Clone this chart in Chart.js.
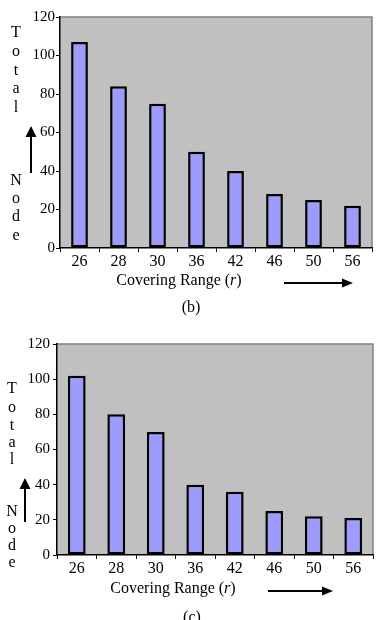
<!DOCTYPE html>
<html>
<head>
<meta charset="utf-8">
<script src="https://cdn.jsdelivr.net/npm/chart.js@4/dist/chart.umd.min.js"></script>
<style>
  html, body { margin: 0; padding: 0; background: #fff; }
  #wrap { position: relative; width: 378px; height: 620px; overflow: hidden; font-family: "Liberation Serif", "DejaVu Serif", serif; color: #000; }
  .box { position: absolute; left: 0; width: 378px; }
  .txt { position: absolute; white-space: nowrap; font-size: 16px; line-height: 16px; transform: translate(-50%, -50%); }
  .letter { position: absolute; font-size: 16px; line-height: 16px; transform: translate(-50%, -50%); }
</style>
</head>
<body>
<div id="wrap">
  <div class="box" style="top:0;height:320px;"><canvas id="cb"></canvas></div>
  <div class="box" style="top:320px;height:300px;"><canvas id="cc"></canvas></div>
</div>
<script>
const categories = ["26", "28", "30", "36", "42", "46", "50", "56"];
const valuesB = [107, 84, 75, 50, 40, 28, 25, 22];
const valuesC = [102, 80, 70, 40, 36, 25, 22, 21];
const yTicks = [0, 20, 40, 60, 80, 100, 120];
const xTitle = "Covering Range (<i>r</i>)";
const yTitleTop = ["T", "o", "t", "a", "l"];
const yTitleBottom = ["N", "o", "d", "e"];
const captions = ["(b)", "(c)"];

const FONT = "'Liberation Serif', 'DejaVu Serif', serif";

function bgPlugin(arrowV, arrowH) {
  return {
    id: 'bg',
    beforeDraw(chart) {
      const {ctx, chartArea: a} = chart;
      ctx.save();
      ctx.fillStyle = '#C0C0C0';
      ctx.fillRect(a.left, a.top, a.right - a.left, a.bottom - a.top);
      ctx.strokeStyle = '#808080';
      ctx.lineWidth = 1.5;
      ctx.beginPath();
      ctx.moveTo(a.left, a.top);
      ctx.lineTo(a.right, a.top);
      ctx.lineTo(a.right, a.bottom);
      ctx.stroke();
      ctx.restore();
    },
    afterDraw(chart) {
      const ctx = chart.ctx;
      ctx.save();
      ctx.strokeStyle = '#000';
      ctx.fillStyle = '#000';
      ctx.lineWidth = 2;
      // vertical arrow
      ctx.beginPath();
      ctx.moveTo(arrowV.x, arrowV.y2);
      ctx.lineTo(arrowV.x, arrowV.y1 + 8);
      ctx.stroke();
      ctx.beginPath();
      ctx.moveTo(arrowV.x, arrowV.y1);
      ctx.lineTo(arrowV.x - 5.5, arrowV.y1 + 11);
      ctx.lineTo(arrowV.x + 5.5, arrowV.y1 + 11);
      ctx.closePath();
      ctx.fill();
      // horizontal arrow
      ctx.beginPath();
      ctx.moveTo(arrowH.x1, arrowH.y);
      ctx.lineTo(arrowH.x2 - 8, arrowH.y);
      ctx.stroke();
      ctx.beginPath();
      ctx.moveTo(arrowH.x2, arrowH.y);
      ctx.lineTo(arrowH.x2 - 11, arrowH.y - 4.5);
      ctx.lineTo(arrowH.x2 - 11, arrowH.y + 4.5);
      ctx.closePath();
      ctx.fill();
      ctx.restore();
    }
  };
}

function makeChart(id, values, cfg) {
  return new Chart(document.getElementById(id), {
    type: 'bar',
    data: {
      labels: categories,
      datasets: [{
        data: values,
        backgroundColor: '#9C9CFF',
        borderColor: '#000000',
        borderWidth: 2.5,
        borderSkipped: false,
        barPercentage: cfg.barPct,
        categoryPercentage: 1.0
      }]
    },
    options: {
      responsive: true,
      maintainAspectRatio: false,
      animation: false,
      events: [],
      layout: { padding: { top: cfg.top, right: cfg.right, left: 0, bottom: 0 } },
      plugins: { legend: { display: false }, tooltip: { enabled: false } },
      scales: {
        x: {
          grid: { display: true, drawOnChartArea: false, drawTicks: true, tickLength: 4, color: '#000', offset: true },
          border: { display: true, color: '#000', width: 1.5 },
          ticks: { color: '#000', font: { family: FONT, size: 16 }, padding: 0, maxRotation: 0, autoSkip: false },
          afterFit(scale) { scale.height = cfg.xh; }
        },
        y: {
          min: yTicks[0],
          max: yTicks[yTicks.length - 1],
          afterBuildTicks(scale) { scale.ticks = yTicks.map(v => ({ value: v })); },
          grid: { display: true, drawOnChartArea: false, drawTicks: true, tickLength: 4, color: '#000' },
          border: { display: true, color: '#000', width: 1.5 },
          ticks: { color: '#000', font: { family: FONT, size: 15 }, padding: cfg.ypad },
          afterFit(scale) { scale.width = cfg.yw; }
        }
      }
    },
    plugins: [bgPlugin(cfg.arrowV, cfg.arrowH)]
  });
}

makeChart('cb', valuesB, {
  top: 17, right: 6, xh: 72, yw: 60, ypad: 1, barPct: 0.43,
  arrowV: { x: 31, y1: 126, y2: 173 },
  arrowH: { x1: 284, x2: 353, y: 283 }
});
makeChart('cc', valuesC, {
  top: 24, right: 5, xh: 65, yw: 57, ypad: 3, barPct: 0.45,
  arrowV: { x: 25, y1: 158, y2: 202 },
  arrowH: { x1: 268, x2: 333, y: 271 }
});

// text overlays
const wrap = document.getElementById('wrap');
function addText(cls, html, x, y) {
  const d = document.createElement('div');
  d.className = cls;
  d.innerHTML = html;
  d.style.left = x + 'px';
  d.style.top = y + 'px';
  wrap.appendChild(d);
}
// chart (b)
const topB = [32, 51, 70, 88, 107], botB = [180, 198, 216, 235];
yTitleTop.forEach((l, i) => addText('letter', l, 16, topB[i]));
yTitleBottom.forEach((l, i) => addText('letter', l, 16, botB[i]));
addText('txt', xTitle, 179, 280);
addText('txt', captions[0], 191, 307);
// chart (c)
const topC = [388, 407, 425, 442, 459], botC = [511, 528, 545, 562];
yTitleTop.forEach((l, i) => addText('letter', l, 12, topC[i]));
yTitleBottom.forEach((l, i) => addText('letter', l, 12, botC[i]));
addText('txt', xTitle, 173, 588);
addText('txt', captions[1], 192, 617);
</script>
</body>
</html>
